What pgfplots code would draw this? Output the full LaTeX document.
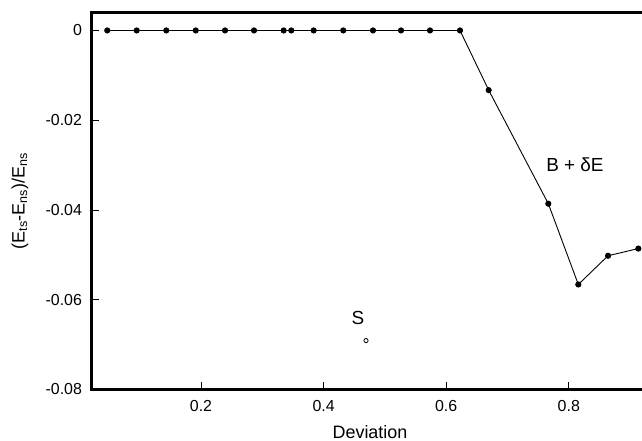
\documentclass[border=0pt]{standalone}
\usepackage{pgfplots}
\pgfplotsset{compat=1.18}
\usepackage{fontspec}
\setmainfont{Liberation Sans}
\begin{document}
\begin{tikzpicture}
\useasboundingbox (-91.5bp,-51.5bp) rectangle (550.5bp,389.5bp);
\begin{axis}[
  scale only axis, width=557bp, height=377bp,
  xmin=0.0214, xmax=0.93, ymin=-0.08, ymax=0.004,
  axis lines=left,
  axis line style={draw=none, -},
  scaled y ticks=false, scaled x ticks=false,
  clip=false,
  xtick={0.2,0.4,0.6,0.8}, xticklabels={0.2,0.4,0.6,0.8},
  ytick={-0.08,-0.06,-0.04,-0.02,0}, yticklabels={-0.08,-0.06,-0.04,-0.02,0},
  tick align=inside,
  major tick length=8bp,
  every tick/.style={black, line width=0.8bp},
  tick label style={font=\fontsize{16}{16}\selectfont},
  yticklabel style={xshift=-6bp},
  xticklabel style={yshift=-7.5bp},
  xlabel={Deviation},
  ylabel={(E\textsubscript{ts}-E\textsubscript{ns})/E\textsubscript{ns}},
  label style={font=\fontsize{18}{18}\selectfont},
  xlabel style={at={(axis description cs:0.5,-0.1127)}, anchor=center},
  ylabel style={at={(axis description cs:-0.1284,0.5)}, anchor=center},
]
\draw[line width=2.2bp] (axis description cs:1,1) -- (axis description cs:0,1) -- (axis description cs:0,0) -- (axis description cs:1,0);
\addplot[black, line width=0.9bp, mark=*, mark size=2.6bp] coordinates {
 (0.0471,0) (0.0951,0) (0.1434,0) (0.1914,0) (0.2392,0) (0.2865,0)
 (0.3349,0) (0.3473,0) (0.3838,0) (0.4321,0) (0.4806,0) (0.5263,0)
 (0.5736,0) (0.6225,0) (0.6693,-0.0133) (0.7666,-0.0386)
 (0.8155,-0.0566) (0.8640,-0.0502) (0.9134,-0.0486)
};
\addplot[black, line width=0.8bp, only marks, mark=o, mark size=2.1bp] coordinates {
 (0.4692,-0.0691)
};
\node[font=\fontsize{19}{19}\selectfont] at (axis cs:0.810,-0.0299) {B + δE};
\node[font=\fontsize{19}{19}\selectfont] at (axis cs:0.456,-0.0640) {S};
\end{axis}
\end{tikzpicture}
\end{document}
